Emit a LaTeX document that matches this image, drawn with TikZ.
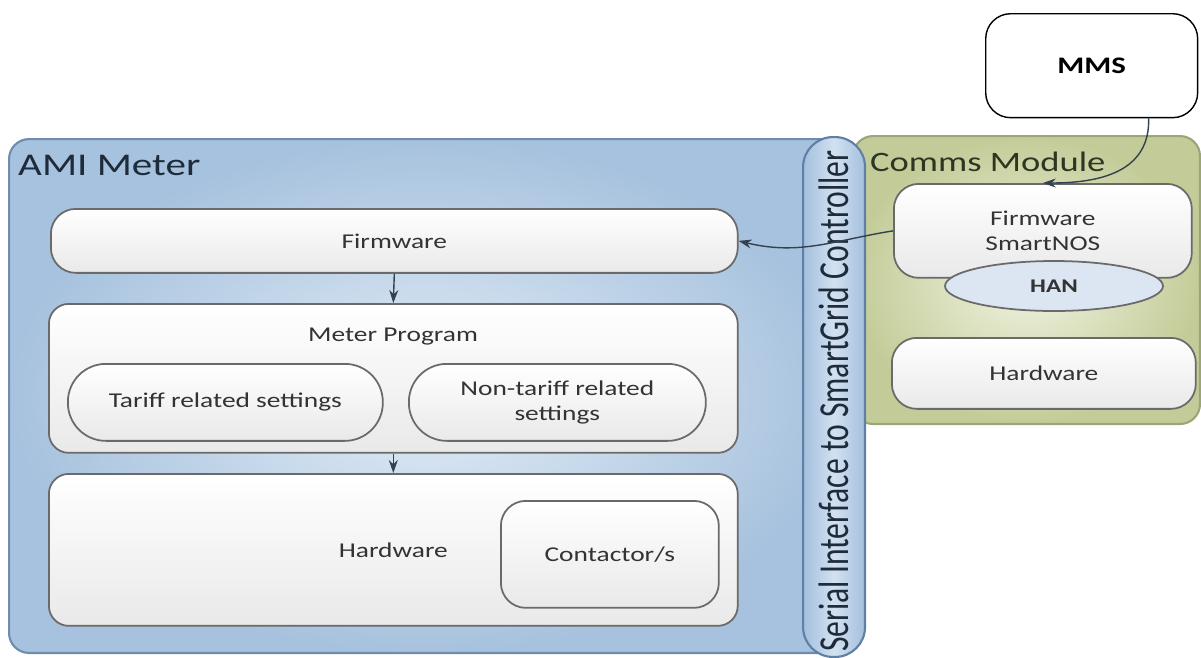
\documentclass[tikz,border=0pt]{standalone}
\usepackage{fontspec}
\setmainfont[FakeStretch=1.3]{Carlito}
\newfontfamily\plaincarlito{Carlito}
\usepackage{graphicx}
\usepackage{xcolor}
\usetikzlibrary{arrows.meta,positioning,shapes.geometric}
\definecolor{amiblue}{HTML}{A7C2DE}
\definecolor{amilight}{HTML}{E2ECF6}
\definecolor{amiedge}{HTML}{6E8CAE}
\definecolor{serialblue}{HTML}{A3BFDD}
\definecolor{seriallight}{HTML}{D2E1F1}
\definecolor{serialedge}{HTML}{5F7FA5}
\definecolor{commsgreen}{HTML}{C3CC98}
\definecolor{commslight}{HTML}{F1F3E2}
\definecolor{commsedge}{HTML}{9AA677}
\definecolor{boxedge}{HTML}{6A6A6A}
\definecolor{boxgray}{HTML}{E9E9E9}
\definecolor{textgray}{HTML}{333333}
\definecolor{titlenavy}{HTML}{1E2B3A}
\definecolor{commstext}{HTML}{2E3522}
\definecolor{hanblue}{HTML}{DCE6F2}
\definecolor{linkgray}{HTML}{34424F}

\begin{document}
\begin{tikzpicture}[x=0.02cm, y=-0.02cm, >={Stealth[length=2.6mm, width=1.8mm]},
      panel/.style={draw=amiedge, line width=1.2pt, rounded corners=0.4cm, inner sep=0pt, anchor=north west},
      box/.style={draw=boxedge, line width=1pt, top color=white, bottom color=boxgray, rounded corners=0.4cm,
        inner sep=0pt, anchor=north west, text=textgray, align=center, font=\fontsize{12}{14}\selectfont},
      pill/.style={box, rounded corners=0.76cm},
      title/.style={anchor=west, text=titlenavy},
      link/.style={->, draw=linkgray, line width=0.8pt}]
      \useasboundingbox (0,0) rectangle (1201,657);
      % Outer panels
      \node[panel, inner color=amilight, outer color=amiblue, minimum width=16.7cm, minimum height=10.28cm] (ami) at (8,138) {};
      \node[panel, draw=commsedge, inner color=commslight, outer color=commsgreen, minimum width=6.94cm, minimum height=5.76cm] (comms) at (852,135) {};
      \node[panel, draw=serialedge, left color=serialblue, right color=serialblue, middle color=seriallight,
        rounded corners=0.6cm, minimum width=1.24cm, minimum height=10.4cm] (serial) at (802,136) {};
      \node[rotate=90, text=titlenavy] (seriallbl) at ([yshift=-0.08cm]serial.center)
        {\plaincarlito\fontsize{18}{20}\selectfont\scalebox{1}[1.35]{Serial Interface to SmartGrid Controller}};
      % Titles
      \node[title, font=\fontsize{18}{20}\selectfont] (amititle) at (12,165) {AMI Meter};
      \node[title, text=commstext, font=\fontsize{16}{18}\selectfont] (commstitle) at (864,162) {Comms Module};
      % MMS
      \node[draw, line width=0.8pt, fill=white, rounded corners=0.5cm, anchor=north west, inner sep=0pt,
        minimum width=4.24cm, minimum height=2.08cm, font=\bfseries\fontsize{13.5}{15}\selectfont] (mms) at (985,13) {MMS};
      % Comms module parts
      \node[box, minimum width=5.96cm, minimum height=1.88cm, rounded corners=0.5cm] (fwsn) at (893,183) {Firmware\\SmartNOS};
      \node[ellipse, draw=boxedge, line width=1pt, fill=hanblue, minimum width=4.36cm, minimum height=1cm, inner sep=0pt,
        text=textgray, font=\bfseries\fontsize{11}{13}\selectfont] (han) at (1054,286) {HAN};
      \node[box, minimum width=6.08cm, minimum height=1.42cm, rounded corners=0.5cm] (chw) at (891,337) {Hardware};
      % AMI meter parts
      \node[box, minimum width=13.74cm, minimum height=1.28cm, rounded corners=0.5cm] (fw) at (50,208) {Firmware};
      \node[box, minimum width=13.78cm, minimum height=2.98cm] (mp) at (48,303) {};
      \node[text=textgray, font=\fontsize{12}{14}\selectfont] (mplbl) at (393,337) {Meter Program};
      \node[pill, minimum width=6.3cm, minimum height=1.54cm] (tariff) at (67,363) {Tariff related settings};
      \node[pill, minimum width=5.94cm, minimum height=1.54cm] (nontariff) at (408,363) {Non-tariff related\\settings};
      \node[box, minimum width=13.78cm, minimum height=3.04cm] (hw) at (48,473) {Hardware};
      \node[box, minimum width=4.36cm, minimum height=2.14cm, rounded corners=0.5cm] (cont) at (500,500) {Contactor/s};
      % Links
      \draw[link] (fw.south) -- (mp.north);
      \draw[link] (mp.south) -- (hw.north);
      \draw[link] ([xshift=1.14cm]mms.south) .. controls (1150,172) and (1100,183) .. (fwsn.north);
      \draw[link] (fwsn.west) .. controls (835,240) and (800,256) .. (fw.east);
    \end{tikzpicture}
\end{document}
